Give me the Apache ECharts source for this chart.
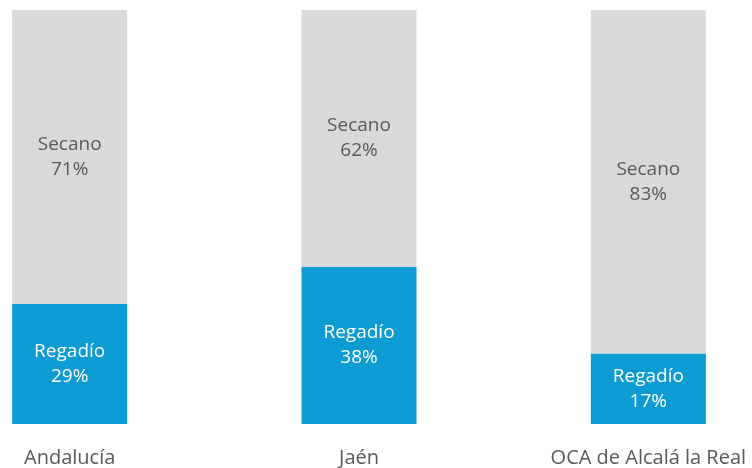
<!DOCTYPE html>
<html>
<head>
<meta charset="UTF-8">
<title>Regadío / Secano</title>
<script src="https://cdn.jsdelivr.net/npm/echarts@6/dist/echarts.min.js"></script>
<style>
  html, body { margin: 0; padding: 0; background: #fff; }
  #chart { width: 752px; height: 468px; }
</style>
</head>
<body>
<div id="chart"></div>
<script>
var categories = ['Andalucía', 'Jaén', 'OCA de Alcalá la Real'];
var regadio = [29, 38, 17];
var secano = [71, 62, 83];

var myChart = echarts.init(document.getElementById('chart'));
var labelFont = 'Open Sans, Noto Sans, sans-serif';

var option = {
    animation: false,
    // bandas anchas: centros de barra en ~69, 358, 648
    grid: { left: -75, right: -41, top: 10, bottom: 44, outerBoundsMode: 'none' },
    xAxis: {
        type: 'category',
        data: categories,
        axisLine: { show: false },
        axisTick: { show: false },
        axisLabel: {
            margin: 24,
            color: '#595959',
            fontSize: 20,
            fontFamily: labelFont
        }
    },
    yAxis: {
        type: 'value',
        min: 0,
        max: 100,
        show: false
    },
    series: [{
        name: 'Regadío',
        type: 'bar',
        stack: 'total',
        barWidth: 115,
        data: regadio,
        itemStyle: { color: '#0c9bd3' },
        label: {
            show: true,
            position: 'inside',
            color: '#ffffff',
            fontSize: 19,
            lineHeight: 25,
            fontFamily: labelFont,
            formatter: function (p) { return 'Regadío\n' + p.value + '%'; }
        }
    }, {
        name: 'Secano',
        type: 'bar',
        stack: 'total',
        barWidth: 115,
        data: secano,
        itemStyle: { color: '#d9d9d9' },
        label: {
            show: true,
            position: 'inside',
            color: '#595959',
            fontSize: 19,
            lineHeight: 25,
            fontFamily: labelFont,
            formatter: function (p) { return 'Secano\n' + p.value + '%'; }
        }
    }]
};
myChart.setOption(option);
window.onresize = myChart.resize;
</script>
</body>
</html>
